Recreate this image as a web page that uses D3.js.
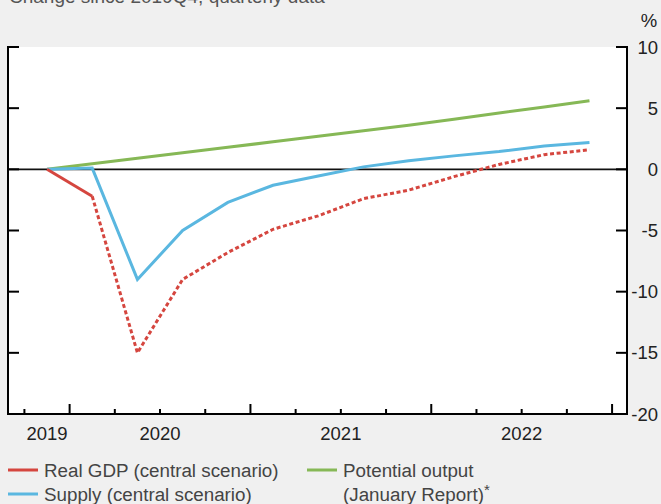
<!DOCTYPE html>
<html><head><meta charset="utf-8">
<script src="https://cdn.jsdelivr.net/npm/d3@7"></script>
<style>
html,body{margin:0;padding:0;background:#f0f0f0;}
svg{display:block;font-family:"Liberation Sans",Arial,Helvetica,sans-serif;}
</style></head>
<body><svg id="c" width="661" height="504"></svg>
<script>
const quarters = ["2019Q4","2020Q1","2020Q2","2020Q3","2020Q4","2021Q1","2021Q2","2021Q3","2021Q4","2022Q1","2022Q2","2022Q3","2022Q4"];
const realGDP   = [0, -2.2, -15.0, -9.0, -6.8, -4.9, -3.8, -2.4, -1.7, -0.6, 0.4, 1.2, 1.6];
const supply    = [0, 0.1, -9.0, -5.0, -2.7, -1.3, -0.55, 0.2, 0.7, 1.1, 1.45, 1.9, 2.2];
const potential = [0, 0.45, 0.9, 1.35, 1.8, 2.25, 2.7, 3.15, 3.6, 4.1, 4.6, 5.1, 5.6];
const yTicks = [10, 5, 0, -5, -10, -15, -20];
const years = ["2019","2020","2021","2022"];

const svg = d3.select("#c");
const L = 8, R = 627, T = 47, B = 414;
const x = d3.scaleLinear().domain([-0.863, 12.83]).range([L, R]);
const y = d3.scaleLinear().domain([-20, 10]).range([B, T]);

// title (cut off at top, as in the reference)
svg.append("text").attr("x", 9).attr("y", 3).attr("font-size", 19).attr("fill", "#555")
  .text("Change since 2019Q4, quarterly data");
svg.append("text").attr("x", 649).attr("y", 27).attr("font-size", 18.5).attr("fill", "#222")
  .attr("text-anchor", "middle").text("%");

svg.append("rect").attr("x", L).attr("y", T).attr("width", R - L).attr("height", B - T).attr("fill", "#fff");

// zero line
svg.append("line").attr("x1", L).attr("x2", R).attr("y1", y(0)).attr("y2", y(0))
  .attr("stroke", "#111").attr("stroke-width", 1.6);

// series
const idx = quarters.map((q, i) => i);
const line = d3.line().x(d => x(d[0])).y(d => y(d[1]));
const pts = arr => arr.map((v, i) => [idx[i], v]);

svg.append("path").datum(pts(potential)).attr("d", line).attr("fill", "none")
  .attr("stroke", "#86b856").attr("stroke-width", 3);
svg.append("path").datum(pts(supply)).attr("d", line).attr("fill", "none")
  .attr("stroke", "#5ab7e0").attr("stroke-width", 3);
const gdp = pts(realGDP);
svg.append("path").datum(gdp.slice(0, 2)).attr("d", line).attr("fill", "none")
  .attr("stroke", "#d5463f").attr("stroke-width", 3);
svg.append("path").datum(gdp.slice(1)).attr("d", line).attr("fill", "none")
  .attr("stroke", "#d5463f").attr("stroke-width", 3).attr("stroke-dasharray", "4,2.6");

// axes frame
const ax = svg.append("g").attr("stroke", "#000").attr("stroke-width", 2);
ax.append("line").attr("x1", L).attr("x2", L).attr("y1", T - 1).attr("y2", B + 1);
ax.append("line").attr("x1", R).attr("x2", R).attr("y1", T - 1).attr("y2", B + 1);
ax.append("line").attr("x1", L - 1).attr("x2", R + 1).attr("y1", B).attr("y2", B);

// y ticks both sides (inward)
yTicks.forEach(t => {
  ax.append("line").attr("x1", L).attr("x2", L + 11).attr("y1", y(t)).attr("y2", y(t));
  ax.append("line").attr("x1", R - 11).attr("x2", R).attr("y1", y(t)).attr("y2", y(t));
});
svg.append("g").selectAll("text").data(yTicks).join("text")
  .attr("x", 658).attr("y", d => y(d) + 6.5).attr("text-anchor", "end")
  .attr("font-size", 18.5).attr("fill", "#222").text(d => d);

// x ticks at quarter boundaries
const bounds = d3.range(-0.5, quarters.length, 1);
bounds.forEach(b => {
  const qi = Math.round(b + 0.5);
  const q = quarters[qi] || "2023Q1";
  const major = q.endsWith("Q1");
  ax.append("line").attr("x1", x(b)).attr("x2", x(b)).attr("y1", B).attr("y2", B - (major ? 10 : 5));
});

// year labels at mean of the year's data quarters
years.forEach(yr => {
  const ids = idx.filter(i => quarters[i].startsWith(yr));
  svg.append("text").attr("x", x(d3.mean(ids))).attr("y", 440).attr("text-anchor", "middle")
    .attr("font-size", 18.5).attr("fill", "#222").text(yr);
});

// legend
const leg = [
  {c: "#d5463f", t: ["Real GDP (central scenario)"], lx: 8, ly: 470},
  {c: "#5ab7e0", t: ["Supply (central scenario)"], lx: 8, ly: 494},
  {c: "#86b856", t: ["Potential output", "(January Report)"], lx: 307, ly: 470}
];
leg.forEach(d => {
  svg.append("line").attr("x1", d.lx).attr("x2", d.lx + 30).attr("y1", d.ly).attr("y2", d.ly)
    .attr("stroke", d.c).attr("stroke-width", 3);
  d.t.forEach((s, i) => {
    const tx = svg.append("text").attr("x", d.lx + 36).attr("y", d.ly + 7 + i * 24)
      .attr("font-size", 18.8).attr("fill", "#444").text(s);
    if (i === 1) tx.append("tspan").attr("dy", -6).attr("font-size", 15).text("*");
  });
});
</script></body></html>
